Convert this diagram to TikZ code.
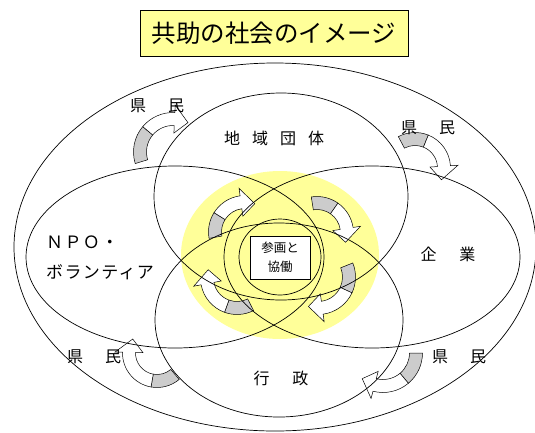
\documentclass[tikz,border=0pt]{standalone}
\usepackage{fontspec}
\setmainfont{Noto Sans CJK JP}
\definecolor{lightyel}{HTML}{FFFF99}
\definecolor{argray}{HTML}{CCCCCC}
\newcommand{\carrow}[6]{%
 \pgfmathsetmacro{\carD}{(#5>#4)?1:-1}%
 \pgfmathsetmacro{\carAH}{#5-\carD*14/#3*57.2958}%
 \begin{scope}[shift={(#1,#2)}]
  \filldraw[fill=argray,line width=0.5pt] (#4:#3+6.5) arc[start angle=#4,end angle=#6,radius=#3+6.5] -- (#6:#3-6.5) arc[start angle=#6,end angle=#4,radius=#3-6.5] -- cycle;
  \filldraw[fill=white,line width=0.5pt] (#6:#3+6.5) arc[start angle=#6,end angle=\carAH,radius=#3+6.5] -- (\carAH:#3+14) -- (#5:#3) -- (\carAH:#3-14) -- (\carAH:#3-6.5) arc[start angle=\carAH,end angle=#6,radius=#3-6.5] -- cycle;
 \end{scope}}
\tikzset{
 ring/.style={draw=black,line width=0.7pt},
 lbl/.style={font=\fontsize{16}{18}\selectfont,inner sep=0pt},
 kata/.style={font=\fontsize{17}{19}\selectfont\addfontfeature{LetterSpace=8},inner sep=0pt,anchor=west},
}
\begin{document}
\begin{tikzpicture}[x=1pt,y=1pt]
\useasboundingbox (0,0) rectangle (535,-432);
% yellow core
\fill[lightyel] (280,-255) ellipse[x radius=99,y radius=84];
% arrows
\carrow{245}{-232}{30}{190}{71}{148}
\carrow{317}{-233}{30}{99}{-18}{55}
\carrow{318}{-277}{31}{22}{-108}{-25}
\carrow{237}{-278}{30}{-63}{-196}{-110}
\carrow{173}{-152}{33}{197}{63}{140}
\carrow{415}{-168}{29}{118}{-24}{68}
\carrow{157}{-353}{28}{-50}{-210}{-100}
\carrow{383}{-353}{33}{0}{-129}{-50}
% rings
\draw[ring] (275,-247) ellipse[x radius=261,y radius=184];
\draw[ring] (281,-196.5) ellipse[x radius=127,y radius=103.5];
\draw[ring] (279,-320) ellipse[x radius=124,y radius=97];
\draw[ring] (175,-257) ellipse[x radius=149,y radius=91];
\draw[ring] (372,-257) ellipse[x radius=148,y radius=91];
\draw[ring] (280,-257) ellipse[x radius=41,y radius=38];
% title
\node[draw=black,line width=0.8pt,fill=lightyel,minimum width=268pt,minimum height=46pt,inner sep=0pt,font=\fontsize{24.5}{26}\selectfont] (title) at (274,-33) {共助の社会のイメージ};
% center box
\node[draw=black,line width=0.7pt,fill=white,minimum width=60pt,minimum height=43pt,inner sep=0pt,align=center,font=\fontsize{12.5}{19}\selectfont] (core) at (280,-257.5) {参画と\\協働};
% labels
\node[lbl] (chiiki) at (274,-138) {地\hspace{12pt}域\hspace{12pt}団\hspace{12pt}体};
\node[lbl] (kigyo) at (448,-254) {企\hspace{23pt}業};
\node[lbl] (gyosei) at (281,-378) {行\hspace{23pt}政};
\node[kata] (npo) at (46,-242) {ＮＰＯ・};
\node[kata] (vol) at (46,-272) {ボランティア};
\node[lbl] (k1) at (157,-106) {県\hspace{22pt}民};
\node[lbl] (k2) at (428,-128) {県\hspace{22pt}民};
\node[lbl] (k3) at (94,-357) {県\hspace{22pt}民};
\node[lbl] (k4) at (459,-357) {県\hspace{22pt}民};
\end{tikzpicture}
\end{document}
